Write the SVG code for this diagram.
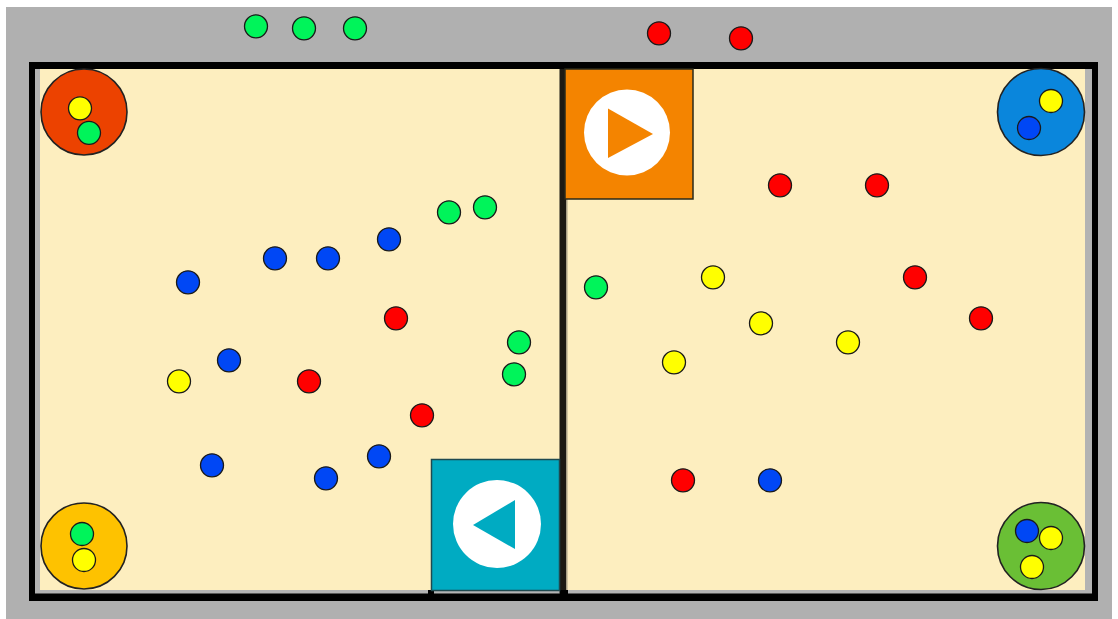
<svg xmlns="http://www.w3.org/2000/svg" width="1118" height="619" viewBox="0 0 1118 619">
<defs><style>
.o{stroke:#1a1a1a;stroke-width:1.3}
.r{fill:#ff0000}.g{fill:#00f45a}.b{fill:#0047f5}.y{fill:#ffff00}
.z{stroke:#222;stroke-width:1.6}
.w{fill:#000}
</style></defs>
<rect width="1118" height="619" fill="#ffffff"/>
<rect x="6" y="7" width="1106" height="612" fill="#b0b0b0"/>
<rect x="35" y="69" width="1057" height="524" fill="#b3b3b3"/>
<rect x="40" y="69" width="1045" height="521" fill="#fdeebf"/>
<g id="walls">
<rect class="w" x="29" y="62" width="1069" height="7"/>
<rect class="w" x="29" y="62" width="6" height="539"/>
<rect class="w" x="1092" y="62" width="6" height="539"/>
<rect class="w" x="29" y="593.500" width="1069" height="7.500"/>
<rect x="566" y="199" width="1.500" height="391" fill="#a89f86"/>
<rect x="559.500" y="69" width="6.500" height="525" fill="#1c1a14"/>
<rect class="w" x="428" y="590" width="6" height="5"/>
<rect class="w" x="560" y="590" width="8" height="5"/>
</g>
<g id="goal-orange"><rect x="565" y="69" width="128" height="130" fill="#f48400" stroke="#2a2a1a" stroke-width="1.5"/><circle cx="627" cy="132.500" r="43" fill="#fff"/><polygon points="608,108.500 653,134 608,158" fill="#f48400"/></g>
<g id="goal-teal"><rect x="431.500" y="459.500" width="128" height="131" fill="#00abc2" stroke="#1f4a50" stroke-width="1.500"/><circle cx="497" cy="524" r="44" fill="#fff"/><polygon points="473,525 515,500 515,549" fill="#00abc2"/></g>
<g id="base-red"><circle class="z" cx="84" cy="112" r="43" fill="#ec4200"/><circle class="o y" cx="80" cy="108.300" r="11.500"/><circle class="o g" cx="89" cy="132.800" r="11.500"/></g>
<g id="base-blue"><circle class="z" cx="1041" cy="112" r="43.500" fill="#0a86dc"/><circle class="o y" cx="1051" cy="101" r="11.500"/><circle class="o b" cx="1029" cy="128" r="11.500"/></g>
<g id="base-amber"><circle class="z" cx="84" cy="546" r="43" fill="#fec200"/><circle class="o g" cx="82" cy="534" r="11.500"/><circle class="o y" cx="84" cy="560" r="11.500"/></g>
<g id="base-green"><circle class="z" cx="1041" cy="546" r="43.500" fill="#6abf35"/><circle class="o b" cx="1027" cy="531" r="11.500"/><circle class="o y" cx="1051" cy="538" r="11.500"/><circle class="o y" cx="1032" cy="567" r="11.500"/></g>
<g id="connectors"></g>
<g id="balls">
<circle class="o g" cx="256" cy="26.300" r="11.500"/><circle class="o g" cx="304" cy="28.300" r="11.500"/><circle class="o g" cx="355" cy="28.300" r="11.500"/>
<circle class="o r" cx="659" cy="33.300" r="11.500"/><circle class="o r" cx="741" cy="38.300" r="11.500"/>
<circle class="o g" cx="449" cy="212.300" r="11.500"/><circle class="o g" cx="485" cy="207.300" r="11.500"/>
<circle class="o b" cx="389" cy="239.300" r="11.500"/><circle class="o b" cx="275" cy="258.300" r="11.500"/><circle class="o b" cx="328" cy="258.300" r="11.500"/><circle class="o b" cx="188" cy="282.300" r="11.500"/>
<circle class="o r" cx="396" cy="318.300" r="11.500"/><circle class="o g" cx="519" cy="342.300" r="11.500"/><circle class="o g" cx="514" cy="374.300" r="11.500"/>
<circle class="o b" cx="229" cy="360.300" r="11.500"/><circle class="o y" cx="179" cy="381.300" r="11.500"/><circle class="o r" cx="309" cy="381.300" r="11.500"/><circle class="o r" cx="422" cy="415.300" r="11.500"/>
<circle class="o b" cx="212" cy="465.300" r="11.500"/><circle class="o b" cx="326" cy="478.300" r="11.500"/><circle class="o b" cx="379" cy="456.300" r="11.500"/>
<circle class="o r" cx="780" cy="185.300" r="11.500"/><circle class="o r" cx="877" cy="185.300" r="11.500"/>
<circle class="o g" cx="596" cy="287.300" r="11.500"/><circle class="o y" cx="713" cy="277.300" r="11.500"/><circle class="o r" cx="915" cy="277.300" r="11.500"/><circle class="o r" cx="981" cy="318.300" r="11.500"/>
<circle class="o y" cx="761" cy="323.300" r="11.500"/><circle class="o y" cx="848" cy="342.300" r="11.500"/><circle class="o y" cx="674" cy="362.300" r="11.500"/>
<circle class="o r" cx="683" cy="480.300" r="11.500"/><circle class="o b" cx="770" cy="480.300" r="11.500"/>
</g>
</svg>
